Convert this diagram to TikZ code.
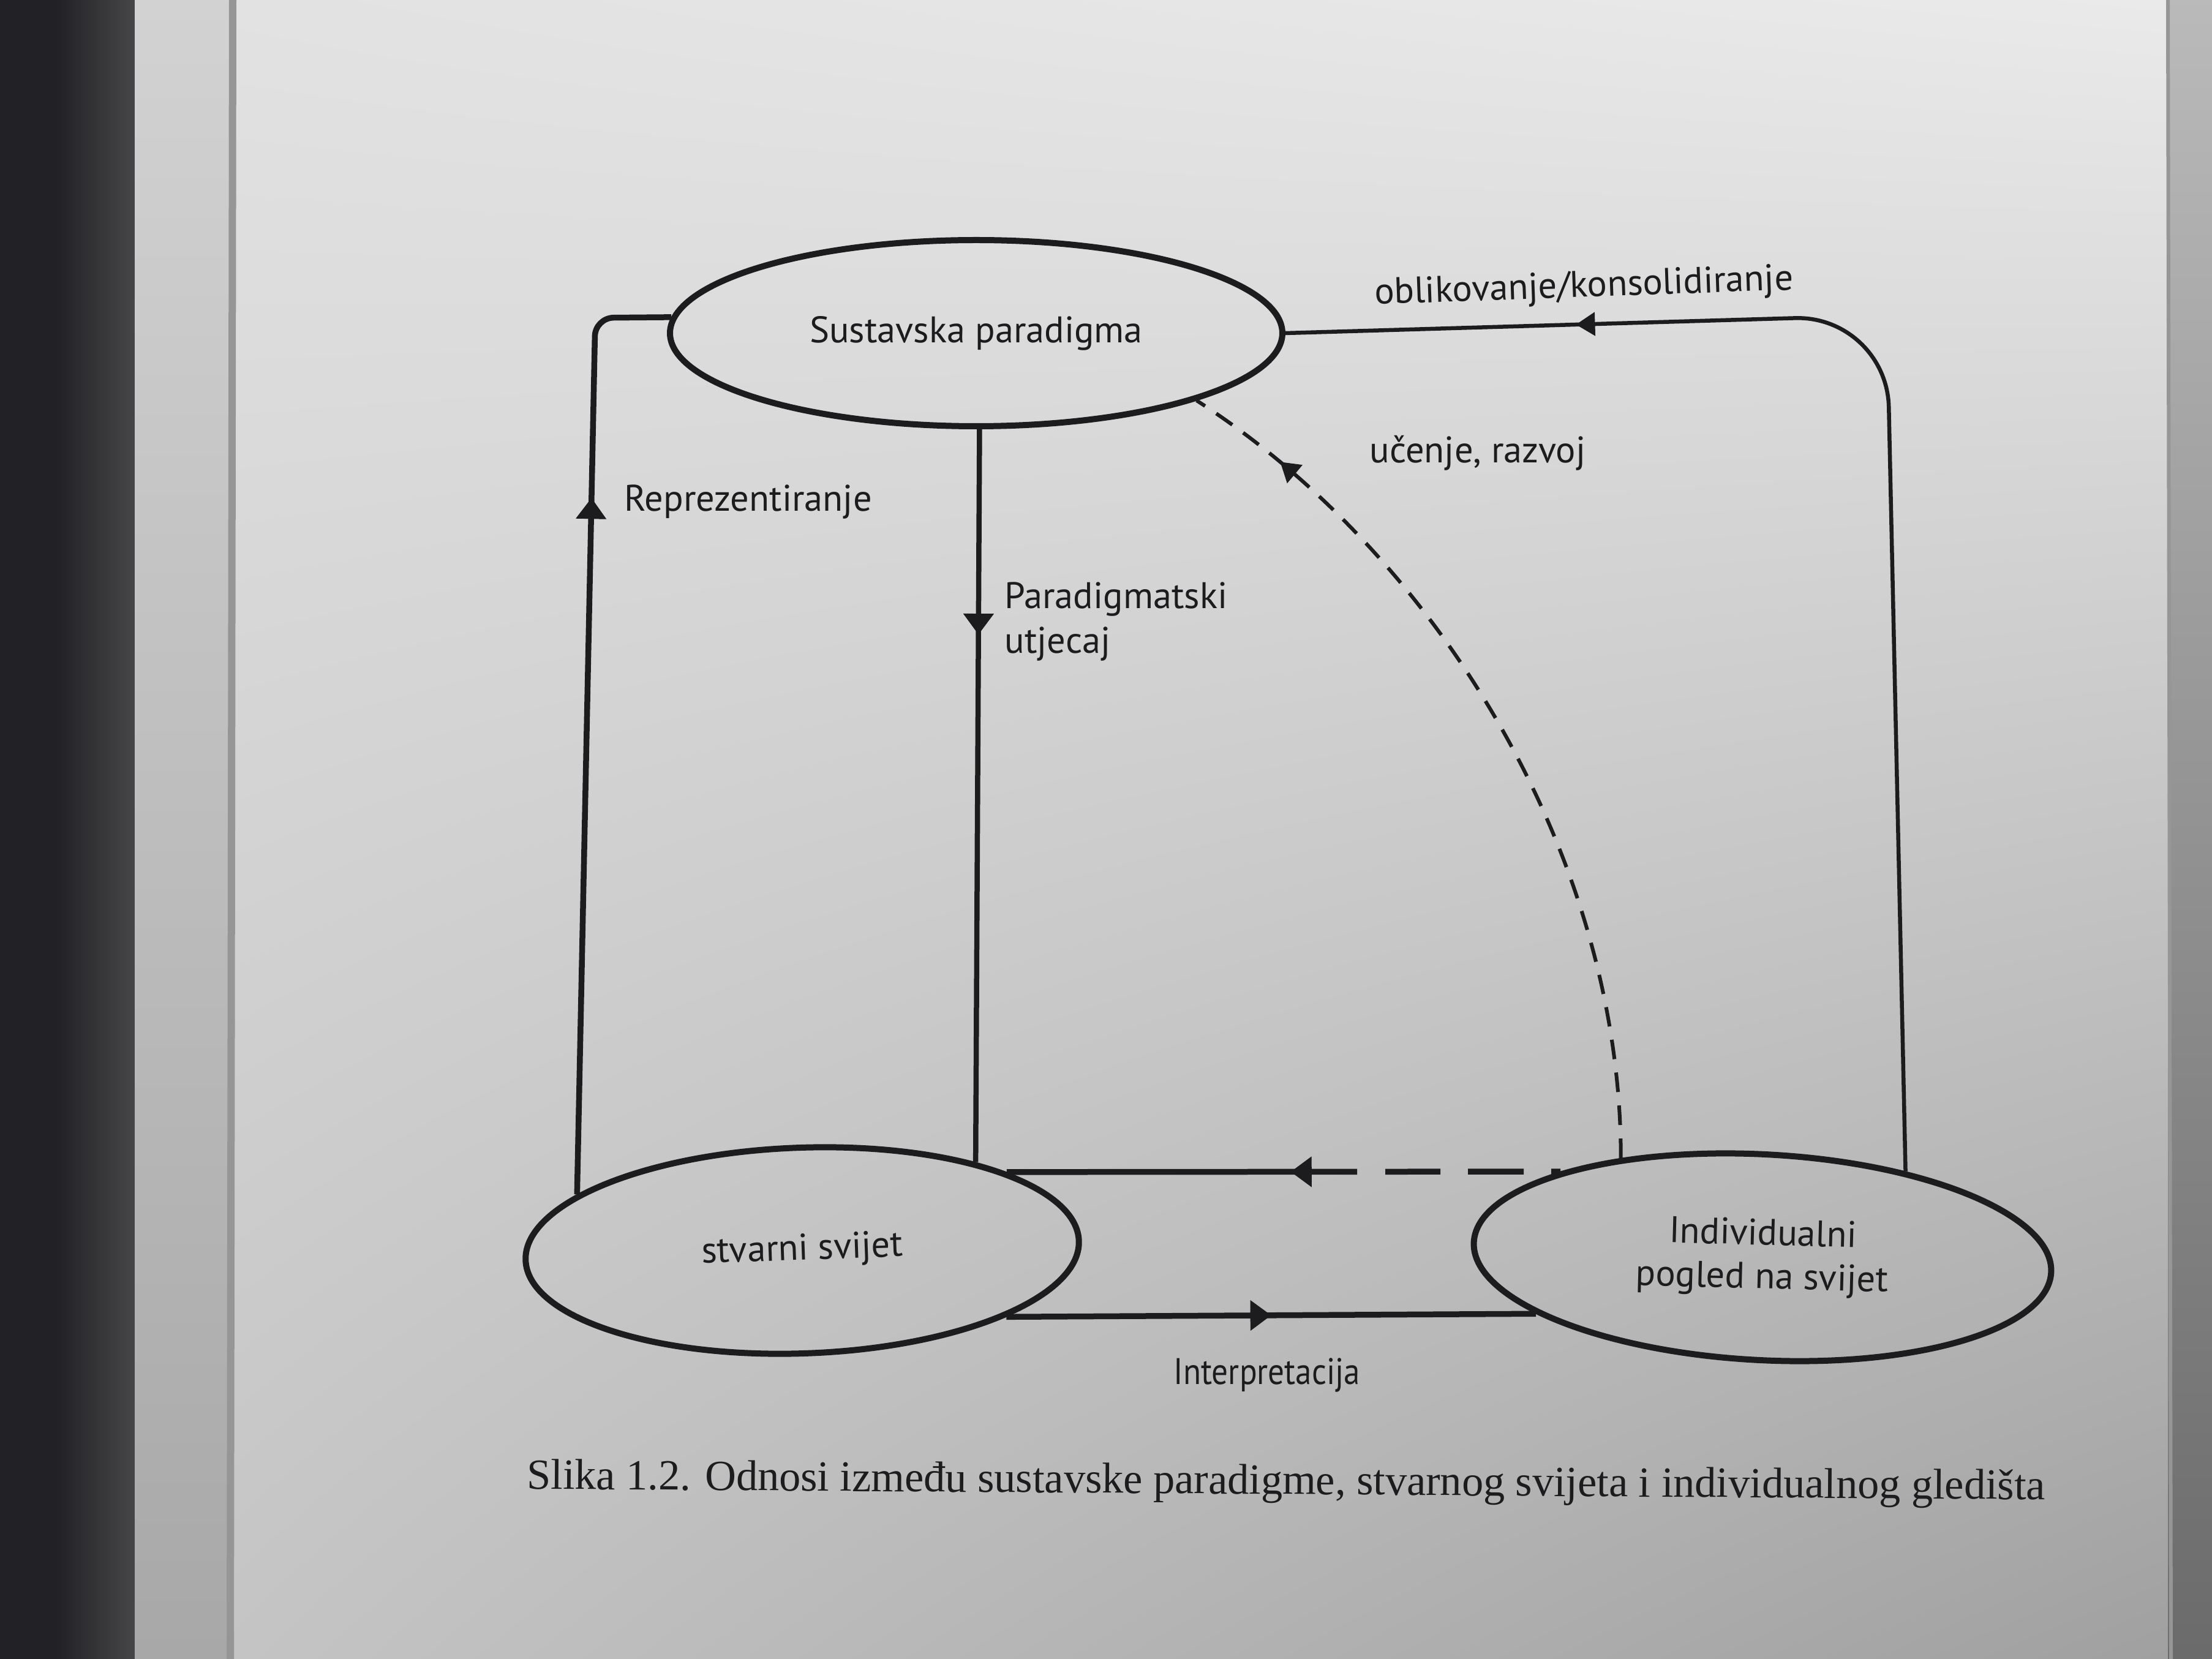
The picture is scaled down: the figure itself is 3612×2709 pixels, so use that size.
\documentclass[tikz,border=0pt]{standalone}
\usepackage{fontspec}
\setmainfont{Liberation Serif}
\newfontfamily\labelfont{PT Sans}
\usetikzlibrary{shapes.geometric,arrows.meta,decorations.markings,shadings}

\definecolor{ink}{RGB}{28,28,30}
\definecolor{pageUL}{RGB}{226,226,226}
\definecolor{pageUR}{RGB}{234,234,234}
\definecolor{pageLL}{RGB}{196,196,196}
\definecolor{pageLR}{RGB}{160,160,160}
\definecolor{coverblack}{RGB}{34,34,38}
\definecolor{coverdark}{RGB}{70,70,72}
\definecolor{leafedge}{RGB}{210,210,210}
\definecolor{leafline}{RGB}{150,150,150}
\definecolor{beyond}{RGB}{178,178,178}

\tikzset{
  bigtri/.tip={Triangle[length=3.4mm,width=5mm,line width=0.1mm]},
  smalltri/.tip={Triangle[length=3.1mm,width=3.9mm,line width=0.1mm]},
  state/.style={ellipse, draw=ink, line width=1mm, inner sep=0pt, text=ink,
    font=\labelfont\fontsize{17.2}{22}\selectfont, align=center},
  flow/.style={draw=ink, line width=0.95mm},
  thinflow/.style={draw=ink, line width=0.65mm},
  dashcurve/.style={draw=ink, line width=0.6mm, dash pattern=on 3.2mm off 2.2mm},
  lbl/.style={inner sep=0pt, text=ink, font=\labelfont\fontsize{17.2}{20.7}\selectfont},
  capstyle/.style={inner sep=0pt, text=ink, font=\fontsize{20}{24}\selectfont},
  tipat/.style={postaction={decorate}, decoration={markings, mark=at position #1 with {\arrow{bigtri}}}},
  smalltipat/.style={postaction={decorate}, decoration={markings, mark=at position #1 with {\arrow{smalltri}}}},
}

\begin{document}
\begin{tikzpicture}[x=0.1mm, y=-0.1mm]
  % paper, book cover and page edges
  \useasboundingbox (0,0) rectangle (3612,2709);
  \shade[upper left=pageUL, upper right=pageUR, lower left=pageLL, lower right=pageLR]
    (380,0) rectangle (3540,2709);
  \shade[top color=beyond!90!white, bottom color=beyond!60!black] (3540,0) rectangle (3612,2709);
  \draw[leafline, line width=0.6mm] (3540,0) -- (3545,2709);
  \fill[coverblack] (0,0) rectangle (92,2709);
  \shade[left color=coverblack, right color=coverdark] (92,0) rectangle (220,2709);
  \shade[top color=leafedge, bottom color=leafedge!80!black] (220,0) rectangle (380,2709);
  \draw[leafline, line width=1.2mm] (380,0) -- (376,2709);

  % the three states
  \node[state, minimum width=100mm, minimum height=30.4mm] (sus) at (1594,544) {Sustavska paradigma};
  \node[state, minimum width=90.4mm, minimum height=33.6mm, rotate=2] (stv) at (1310,2042) {stvarni svijet};
  \node[state, minimum width=94.4mm, minimum height=33.6mm, rotate=-3] (ind) at (2878,2053)
    {\rotatebox{1.5}{\begin{tabular}{@{}c@{}}Individualni\\[-0.2ex]pogled na svijet\end{tabular}}};

  % corner points of the bent connectors
  \coordinate (cL) at (972,519);
  \coordinate (cR) at (3081,515);

  % Reprezentiranje
  \draw[flow, rounded corners=3mm, tipat=0.737] (stv.164) -- (cL) -- (sus.177);
  % Paradigmatski utjecaj
  \draw[flow, line width=0.85mm, tipat=0.28] (sus.272) -- (stv.25);
  % oblikovanje/konsolidiranje
  \draw[thinflow, rounded corners=15mm, smalltipat=0.795] (ind.34) -- (cR) -- (sus.east);
  % ucenje, razvoj
  \draw[dashcurve, smalltipat=0.885] (ind.148) .. controls (2647,1393) and (2342,903) .. (sus.343);
  % feedback line, dashed near the individual view
  \draw[flow, dash pattern=on 1.5mm off 4.5mm on 9.1mm off 4.5mm on 9mm off 4.6mm on 100mm, tipat=0.487]
    (ind.160) -- (stv.19);
  % Interpretacija
  \draw[flow, tipat=0.5] (stv.340) -- (ind.197);

  % labels
  \node[lbl, anchor=base west] (repl) at (1019,835) {Reprezentiranje};
  \node[lbl, anchor=north west, align=left] (parl) at (1640,950) {Paradigmatski\\utjecaj};
  \node[lbl, anchor=base, rotate=2] (oblk) at (2587,485) {oblikovanje/konsolidiranje};
  \node[lbl, anchor=base] (ucen) at (2413,756) {učenje, razvoj};
  \node[lbl, anchor=base] (intl) at (2069,2260) {\scalebox{0.88}[1]{Interpretacija}};

  % caption
  \node[capstyle, anchor=base, rotate=-0.4] (cap) at (2100,2440)
    {Slika 1.2. Odnosi između sustavske paradigme, stvarnog svijeta i individualnog gledišta};
\end{tikzpicture}
\end{document}
